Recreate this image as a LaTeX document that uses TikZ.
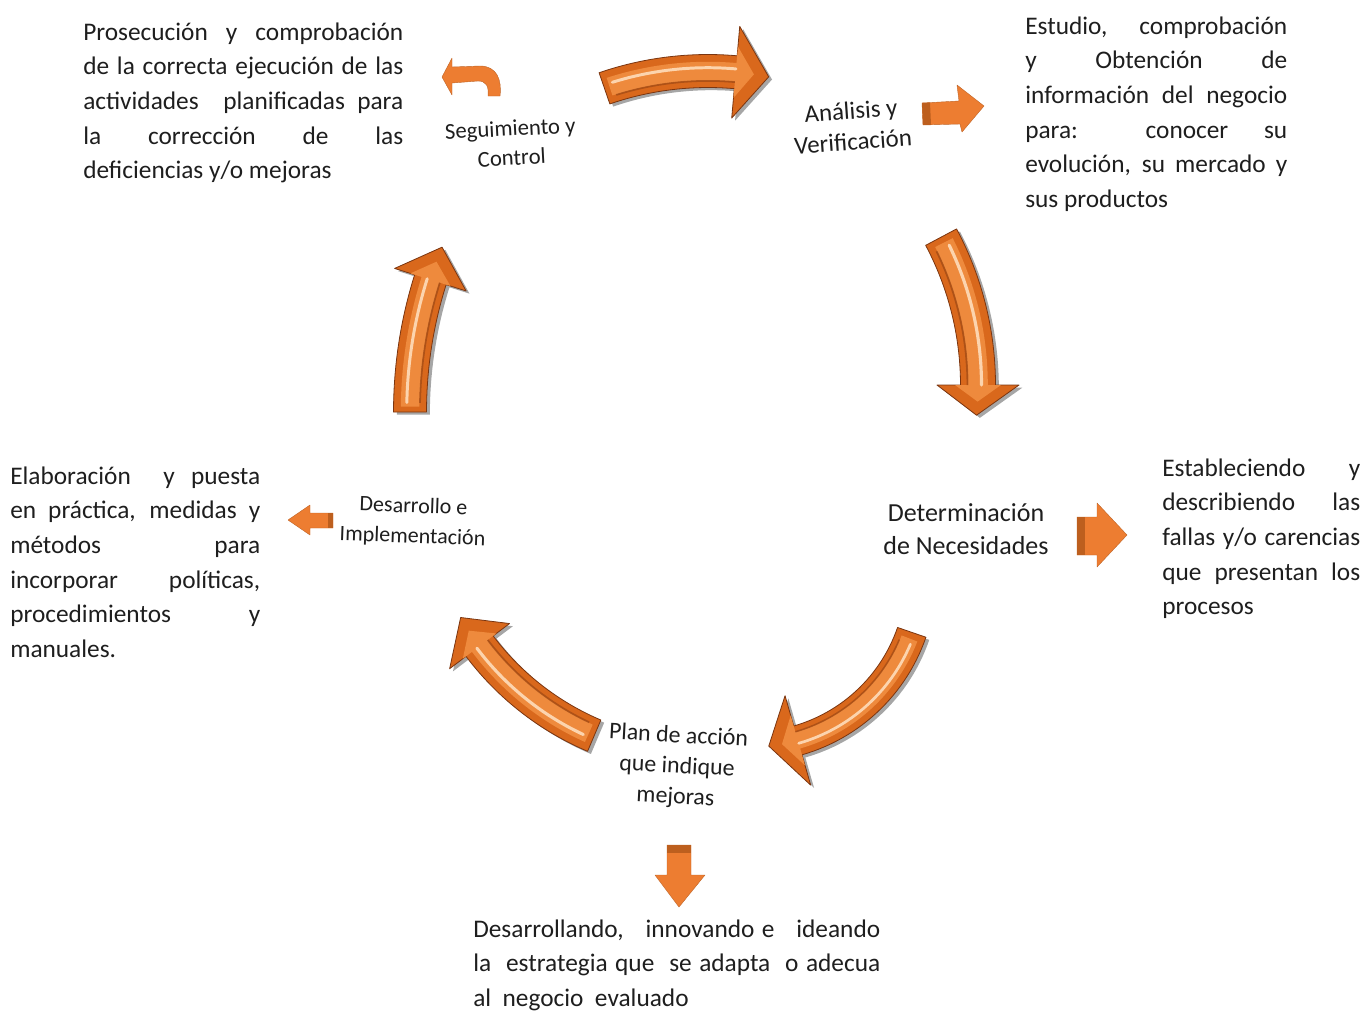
\documentclass[tikz,border=0pt]{standalone}
\usepackage{fontspec}
\setmainfont{Carlito}
\usetikzlibrary{calc}
\definecolor{arrowdark}{HTML}{7A3510}
\definecolor{arrowmain}{HTML}{D9681C}
\definecolor{arrowinner}{HTML}{EE8A3D}
\definecolor{arrowlight}{HTML}{FFE1C2}
\definecolor{flatorange}{HTML}{ED7D31}
\definecolor{flatdark}{HTML}{BD5F1E}
\definecolor{textgray}{HTML}{1E1E1E}
\def\cyclearrows{% \cx/\cy/\rad/\angA/\angB/\angT/\wid/\head
  {708/389/318/251/275/281/33/92},%   Seguimiento -> Analisis
  {663/385/315/-28/0/5.5/35/82},%     Analisis -> Determinacion
  {751/577/170/19/74/84/30/93},%      Determinacion -> Plan
  {704/477/281/113/143/150/34/75},%   Plan -> Desarrollo
  {850/412/440/180/197.5/202/33/75}%  Desarrollo -> Seguimiento
}
\newcommand{\jline}[2]{\makebox[#1][s]{\strut #2}}
\tikzset{
  band/.style={insert path={%
    plot[domain=\aS:\aE,samples=30,variable=\t] ({\cx+\ro*cos(\t)},{\cy+\ro*sin(\t)})
    -- ({\cx+\hro*cos(\aE)},{\cy+\hro*sin(\aE)})
    -- ({\cx+\tr*cos(\aT)},{\cy+\tr*sin(\aT)})
    -- ({\cx+\hri*cos(\aE)},{\cy+\hri*sin(\aE)})
    -- plot[domain=\aE:\aS,samples=30,variable=\t] ({\cx+\ri*cos(\t)},{\cy+\ri*sin(\t)})
    -- cycle}},
  desc/.style={anchor=north west, inner sep=0pt, align=left, text=textgray,
    font=\fontsize{19}{26}\selectfont},
  stage/.style={align=center, inner sep=0pt, text=textgray},
  flat/.style={fill=flatorange, draw=flatorange!80!black, line width=.3pt, line join=round},
  flatend/.style={fill=flatdark}
}
\begin{document}
\begin{tikzpicture}[x=0.75pt, y=-0.75pt]
  \useasboundingbox (0,0) rectangle (1363,1014);

  % big 3d arrows of the cycle
  \foreach \cx/\cy/\rad/\angA/\angB/\angT/\wid/\head in \cyclearrows {%
    \pgfmathsetmacro\aS{\angA}\pgfmathsetmacro\aE{\angB}\pgfmathsetmacro\aT{\angT}
    \pgfmathsetmacro\ro{\rad+\wid/2}\pgfmathsetmacro\ri{\rad-\wid/2}
    \pgfmathsetmacro\hro{\rad+\head/2}\pgfmathsetmacro\hri{\rad-\head/2}
    \pgfmathsetmacro\tr{\rad}
    \fill[black, opacity=.35, xshift=2.5pt, yshift=-2pt, band];
    \draw[arrowdark, fill=arrowmain, line width=.6pt, line join=round, band];
    % bevel
    \pgfmathsetmacro\aS{\angA+0.04*(\angB-\angA)}
    \pgfmathsetmacro\aT{\angB+0.55*(\angT-\angB)}
    \pgfmathsetmacro\ro{\rad+0.28*\wid}\pgfmathsetmacro\ri{\rad-0.28*\wid}
    \pgfmathsetmacro\hro{\rad+0.28*\head}\pgfmathsetmacro\hri{\rad-0.28*\head}
    \fill[arrowinner, band];
    % shine
    \pgfmathsetmacro\rh{\rad+0.1*\wid}\pgfmathsetmacro\rd{\rad-0.3*\wid}
    \pgfmathsetmacro\lw{0.09*\wid*0.75}
    \pgfmathsetmacro\aH{\angA+0.07*(\angB-\angA)}
    \draw[arrowlight, opacity=.85, line width=\lw pt, line cap=round]
      plot[domain=\aH:\angB,samples=30,variable=\t] ({\cx+\rh*cos(\t)},{\cy+\rh*sin(\t)});
    \draw[arrowdark, opacity=.45, line width=.6*\lw pt]
      plot[domain=\aH:\angB,samples=30,variable=\t] ({\cx+\rd*cos(\t)},{\cy+\rd*sin(\t)});
  }

  % small flat arrows
  \draw[flat] (452,67) -- (480,66) .. controls (497,66) and (502,80) .. (500,96)
    -- (488,96) .. controls (489,86) and (486,81) .. (478,81) -- (452,83)
    -- (452,95) -- (442,77) -- (452,58) -- cycle;
  \draw[flat] (922,103) -- (959,101) -- (957,85) -- (984,106) -- (962,132)
    -- (960,124) -- (923,125) -- cycle;
  \fill[flatend] (922,103) -- (930,102.6) -- (931,124.8) -- (923,125) -- cycle;
  \draw[flat] (1077,517) -- (1097,517) -- (1097,503) -- (1127,535) -- (1097,567)
    -- (1097,555) -- (1077,555) -- cycle;
  \fill[flatend] (1077,517) rectangle (1085,555);
  \draw[flat] (333,513) -- (310,513) -- (310,505) -- (288,520) -- (310,535)
    -- (310,528) -- (333,528) -- cycle;
  \fill[flatend] (328,513) rectangle (333,528);
  \draw[flat] (667,845) -- (691,845) -- (691,875) -- (705,875) -- (679,907)
    -- (655,875) -- (667,875) -- cycle;
  \fill[flatend] (667,845) rectangle (691,853);

  % stages
  \node[stage, font=\fontsize{17}{22}\selectfont, rotate=3] (seg) at (511,143) {Seguimiento y\\Control};
  \node[stage, font=\fontsize{18.7}{23.3}\selectfont, rotate=4] (ana) at (852,126) {Análisis y\\Verificación};
  \node[stage, font=\fontsize{19.5}{25}\selectfont] (det) at (966,529) {Determinación\\de Necesidades};
  \node[stage, font=\fontsize{17.9}{23}\selectfont, rotate=-3] (plan) at (677,767) {Plan de acción\\que indique\\mejoras};
  \node[stage, font=\fontsize{16.5}{22.5}\selectfont, rotate=-2] (des) at (413,522) {Desarrollo e\\Implementación};

  % descriptions
  \node[desc] (dseg) at (83,15.7) {%
    \jline{240pt}{Prosecución y comprobación}\\
    \jline{240pt}{de la correcta ejecución de las}\\
    \jline{240pt}{actividades\ \ planificadas para}\\
    \jline{240pt}{la corrección de las}\\
    \strut deficiencias y/o mejoras};
  \node[desc] (dana) at (1025,9.7) {%
    \jline{196.5pt}{Estudio, comprobación}\\
    \jline{196.5pt}{y Obtención de}\\
    \jline{196.5pt}{información del negocio}\\
    \jline{196.5pt}{para: conocer su}\\
    \jline{196.5pt}{evolución, su mercado y}\\
    \strut sus productos};
  \node[desc] (ddet) at (1162,451.7) {%
    \jline{148.5pt}{Estableciendo y}\\
    \jline{148.5pt}{describiendo las}\\
    \jline{148.5pt}{fallas y/o carencias}\\
    \jline{148.5pt}{que presentan los}\\
    \strut procesos};
  \node[desc] (ddes) at (10,459.7) {%
    \jline{187.5pt}{Elaboración\ \ y puesta}\\
    \jline{187.5pt}{en práctica, medidas y}\\
    \jline{187.5pt}{métodos para}\\
    \jline{187.5pt}{incorporar políticas,}\\
    \jline{187.5pt}{procedimientos y}\\
    \strut manuales.};
  \node[desc] (dplan) at (473,912.7) {%
    \jline{305.25pt}{Desarrollando,\ \ \ innovando e\ \ \ ideando}\\
    \jline{305.25pt}{la\ \ estrategia que\ \ se adapta\ \ o adecua}\\
    \strut al\ \ negocio\ \ evaluado};
\end{tikzpicture}
\end{document}
